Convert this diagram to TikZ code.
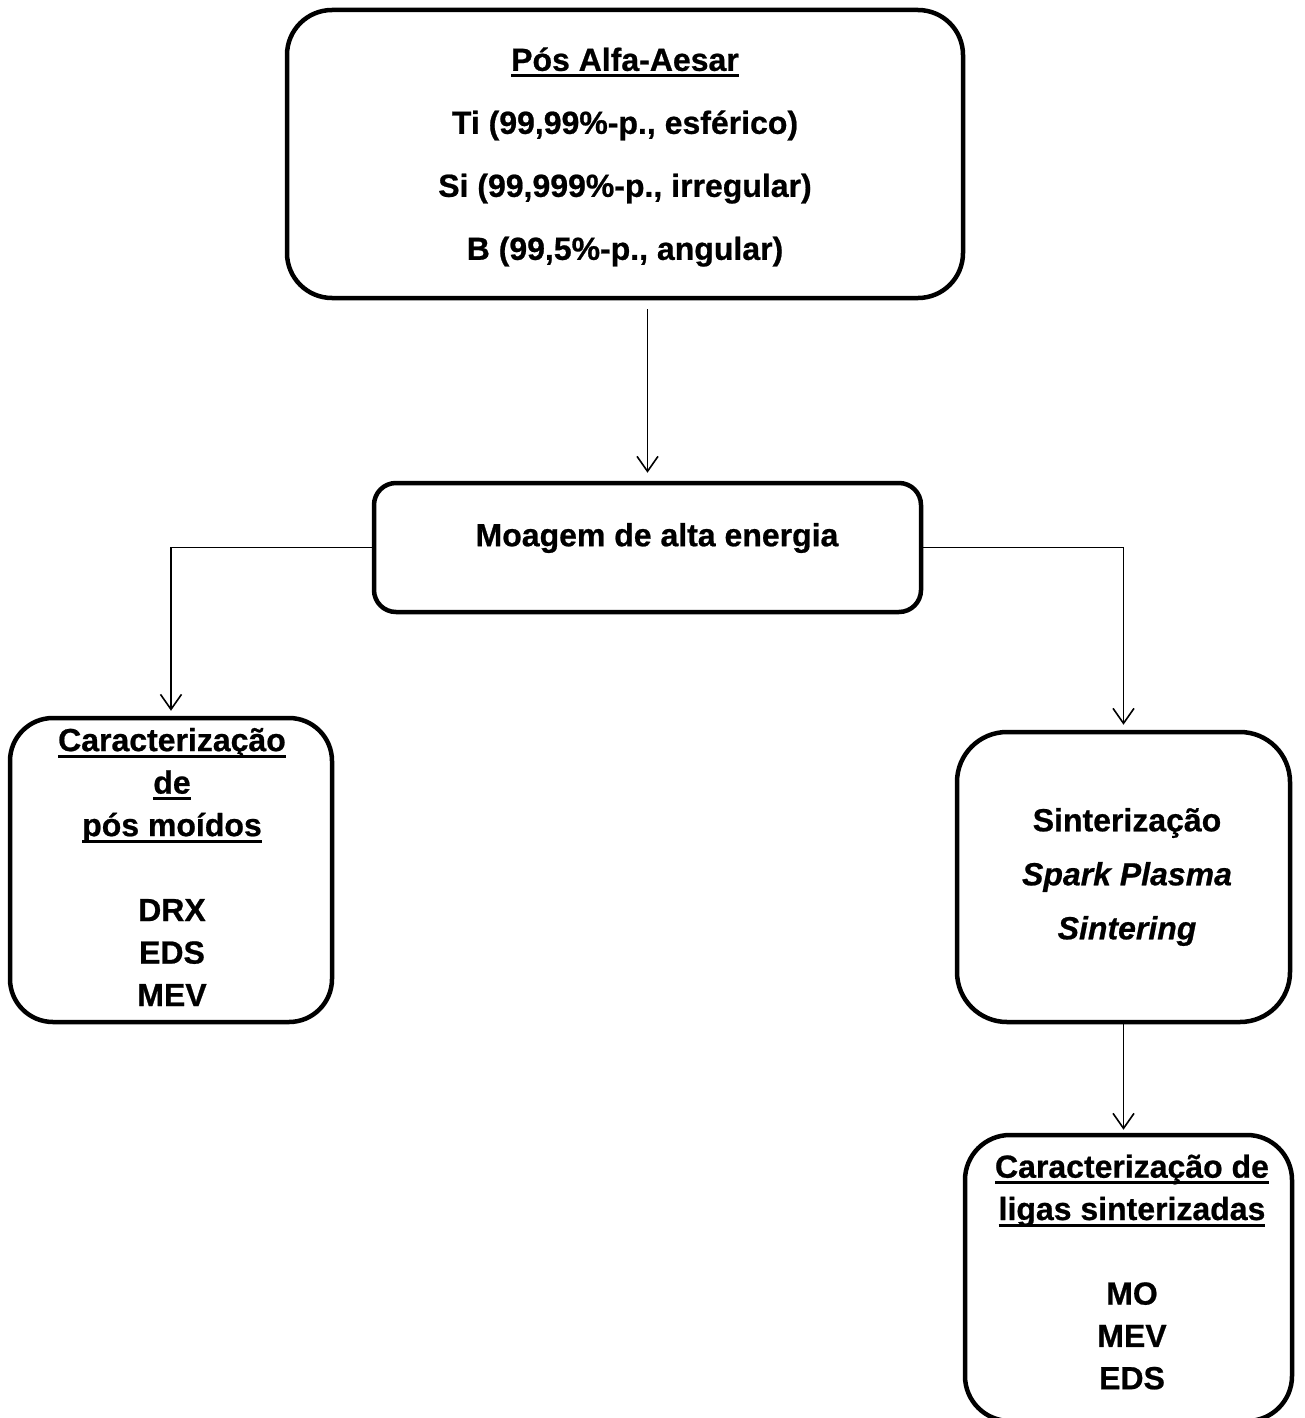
\documentclass[tikz,border=0pt]{standalone}
\usepackage{fontspec}
\setmainfont{Liberation Sans}[BoldFeatures={FakeBold=0.7},BoldItalicFeatures={FakeBold=0.7}]
\usetikzlibrary{arrows.meta}
\newcommand\myul[1]{\setbox0\hbox{#1}\rlap{\rule[-6.5pt]{\wd0}{3pt}}\box0}
\tikzset{
  box/.style={draw, line width=4.5pt, inner sep=0pt, rounded corners=#1},
  txt/.style={inner sep=0pt, align=center, font={\fontsize{32}{#1}\selectfont\bfseries}},
  arr/.style={line width=1.6pt, -{Straight Barb[length=15pt,width=21pt]}}
}
\begin{document}
\begin{tikzpicture}[x=1pt,y=-1pt]
\path[use as bounding box] (0,0) rectangle (1304,1418);
\clip (0,0) rectangle (1304,1418);
\fill[white] (0,0) rectangle (1304,1418);

% boxes
\node[box=45pt, minimum width=676pt, minimum height=288pt] (top) at (625,154) {};
\node[box=22pt, minimum width=547pt, minimum height=129pt] (moagem) at (647.5,547.5) {};
\node[box=43pt, minimum width=322pt, minimum height=304pt] (left) at (171,870) {};
\node[box=50pt, minimum width=333pt, minimum height=290pt] (sint) at (1123.5,877) {};
\node[box=45pt, minimum width=327pt, minimum height=286pt] (bottom) at (1128.5,1278) {};

% texts
\node[txt=63] (toptxt) at (625,157) {\myul{Pós Alfa-Aesar}\\Ti (99,99\%-p., esférico)\\Si (99,999\%-p., irregular)\\B (99,5\%-p., angular)};
\node[txt=36] (moagemtxt) at (657,538) {Moagem de alta energia};
\node[txt=42.5] (lefttxt) at (172,867) {\myul{Caracterização}\\\myul{de}\\\myul{pós moídos}\\[42.5pt]DRX\\EDS\\MEV};
\node[txt=54] (sinttxt) at (1127,877) {Sinterização\\\itshape Spark Plasma\\\itshape Sintering};
\node[txt=42.3] (bottomtxt) at (1132,1272) {\myul{Caracterização de}\\\myul{ligas sinterizadas}\\[42.3pt]MO\\MEV\\EDS};

% connectors
\coordinate (a1) at (moagem.north |- top.south);
\coordinate (a2) at (sint.south |- bottom.north);
\draw[arr] ([yshift=-9pt]a1) -- ([yshift=8pt]moagem.north);
\draw[arr] (moagem.west) -| ([yshift=5pt]left.north);
\draw[arr] (moagem.east) -| ([yshift=5pt]sint.north);
\draw[arr] (sint.south) -- ([yshift=3pt]a2);
\end{tikzpicture}
\end{document}
